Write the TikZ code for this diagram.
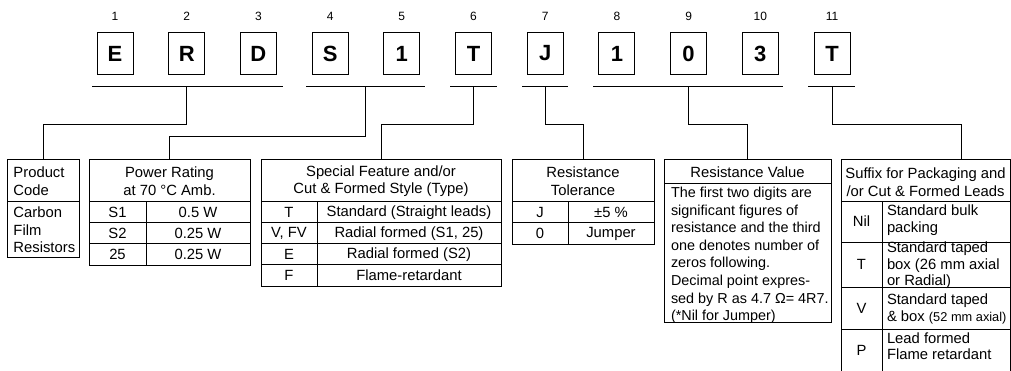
\documentclass[tikz,border=0pt]{standalone}
\usepackage{fontspec}
\setmainfont{Liberation Sans}
\usetikzlibrary{calc}

\tikzset{every picture/.style={line width=0.75pt}}
\tikzset{
  digit/.style={draw, minimum width=27pt, minimum height=31.5pt, inner sep=0pt,
    font=\fontsize{16.5}{18}\selectfont\bfseries},
  posnum/.style={inner sep=0pt, font=\fontsize{9}{10}\selectfont},
  txt/.style={inner sep=0pt, font=\fontsize{11.1}{13.2}\selectfont},
  cell/.style={txt, align=left, anchor=west, font=\fontsize{11.1}{12.4}\selectfont}
}

\begin{document}
\begin{tikzpicture}[x=0.75pt,y=0.75pt,yscale=-1,xscale=1]
		\useasboundingbox (0,0) rectangle (1011,371);

		% code letters and their positions
		\foreach \ch [count=\i] in {E,R,D,S,1,T,J,1,0,3,T} {
			\node[digit] (d\i) at ({115+(\i-1)*71.7},53.5) {\ch};
			\node[posnum] (n\i) at ({115+(\i-1)*71.7},16) {\i};
		}

		% underlines
		\draw (92,86) -- (283,86);
		\draw (306,86) -- (425,86);
		\draw (450,86) -- (497,86);
		\draw (522,86) -- (568,86);
		\draw (593,86) -- (783,86);
		\draw (808,86) -- (855,86);
		\coordinate (s1) at (d2 |- 0,86);
		\coordinate (s2) at ($(d4 |- 0,86)!0.5!(d5 |- 0,86)$);
		\coordinate (s3) at (d6 |- 0,86);
		\coordinate (s4) at (d7 |- 0,86);
		\coordinate (s5) at (d9 |- 0,86);
		\coordinate (s6) at (d11 |- 0,86);

		% table tops
		\coordinate (pc) at (43,159);
		\coordinate (pr) at (169.5,159);
		\coordinate (sf) at (381,159);
		\coordinate (rt) at (583,159);
		\coordinate (rv) at (747.5,159);
		\coordinate (sx) at (961,159);

		% connectors
		\draw (s1) -- ++(0,38) -| (pc);
		\draw (s2) -- ++(0,50) -| (pr);
		\draw (s3) -- ++(0,38) -| (sf);
		\draw (s4) -- ++(0,38) -| (rt);
		\draw (s5) -- ++(0,38) -| (rv);
		\draw (s6) -- ++(0,38) -| (sx);

		%Product Code
		\draw (7,159) rectangle (79,257);
		\draw (7,201) -- (79,201);
		\node[txt, align=left, anchor=west] (pch) at (13,181) {Product\\Code};
		\node[txt, align=left, anchor=west] (pcb) at (13,230) {Carbon\\Film\\Resistors};

		%Power Rating
		\draw (89,159) rectangle (250,265);
		\draw (89,201) -- (250,201);
		\draw (89,222) -- (250,222);
		\draw (89,243) -- (250,243);
		\draw (146,201) -- (146,265);
		\node[txt, align=center] (prh) at (169.5,181) {Power Rating\\at 70 °C Amb.};
		\foreach \a/\b [count=\r] in {S1/0.5 W, S2/0.25 W, 25/0.25 W} {
			\node[txt] at (117.5,{191.5+21*\r}) {\a};
			\node[txt] at (198,{191.5+21*\r}) {\b};
		}

		%Special Feature
		\draw (261,159) rectangle (501,286);
		\foreach \y in {201,222,243,264} \draw (261,\y) -- (501,\y);
		\draw (317,201) -- (317,286);
		\node[txt, align=center] (sfh) at (381,181) {Special Feature and/or\\Cut \& Formed Style (Type)};
		\foreach \a/\b [count=\r] in {T/Standard (Straight leads), {V, FV}/{Radial formed (S1, 25)}, E/Radial formed (S2), F/Flame-retardant} {
			\node[txt] at (289,{191.5+21*\r}) {\a};
			\node[txt] at (409,{191.5+21*\r}) {\b};
		}

		%Resistance Tolerance
		\draw (512,159) rectangle (654,244);
		\draw (512,201) -- (654,201);
		\draw (512,222) -- (654,222);
		\draw (568,201) -- (568,244);
		\node[txt, align=center] (rth) at (583,181) {Resistance\\Tolerance};
		\node[txt] at (540,212.5) {J};
		\node[txt] at (611,212.5) {±5 \%};
		\node[txt] at (540,233.5) {0};
		\node[txt] at (611,233.5) {Jumper};

		%Resistance Value
		\draw (664,159) rectangle (831,322);
		\draw (664,183) -- (831,183);
		\node[txt] (rvh) at (747.5,172) {Resistance Value};
		\node[txt, align=left, anchor=north west, font=\fontsize{10.8}{13.2}\selectfont] (rvb) at (670.5,186.5) {The first two digits are\\significant figures of\\resistance and the third\\one denotes number of\\zeros following.\\Decimal point expres-\\sed by R as 4.7 Ω= 4R7.\\(*Nil for Jumper)};

		%Suffix
		\draw (841,371) -- (841,159) -- (1010,159) -- (1010,371);
		\foreach \y in {201,242,287,329} \draw (841,\y) -- (1010,\y);
		\draw (882,201) -- (882,371);
		\node[txt, align=center] (sxh) at (925.5,182) {Suffix for Packaging and\\/or Cut \& Formed Leads};
		\node[txt] at (861.5,221.5) {Nil};
		\node[txt] at (861.5,264.5) {T};
		\node[txt] at (861.5,308) {V};
		\node[txt] at (861.5,350) {P};
		\node[cell] at (886.5,220) {Standard bulk\\packing};
		\node[cell] at (886.5,265.5) {Standard taped\\box (26 mm axial\\or Radial)};
		\node[cell] at (886.5,309) {Standard taped\\\& box {\fontsize{9.6}{12}\selectfont(52 mm axial)}};
		\node[cell] at (886.5,346) {Lead formed\\Flame retardant};

		\end{tikzpicture}
\end{document}
